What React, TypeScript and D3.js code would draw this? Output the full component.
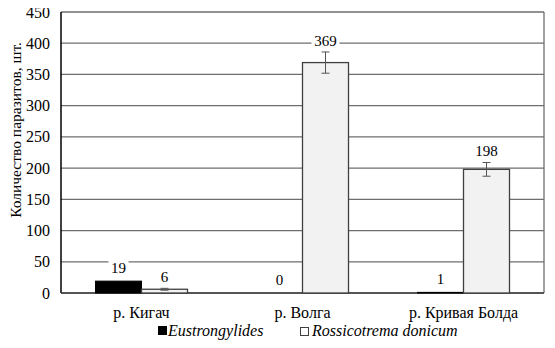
import React from "react";
import * as d3 from "d3";

const categories = ["р. Кигач", "р. Волга", "р. Кривая Болда"];
const seriesNames = ["Eustrongylides", "Rossicotrema donicum"];
const eustrongylides = [19, 0, 1];
const rossicotrema = [6, 369, 198];
const rossicotremaErr = [1.5, 17, 11];
const yTicks = [0, 50, 100, 150, 200, 250, 300, 350, 400, 450];

const W = 555;
const H = 348;
const M = { left: 61, right: 11, top: 12, bottom: 55 };

export default function App() {
  const x = d3
    .scaleBand<string>()
    .domain(categories)
    .range([M.left, W - M.right])
    .paddingInner(0)
    .paddingOuter(0);
  const y = d3.scaleLinear().domain([0, 450]).range([H - M.bottom, M.top]);
  const barW = 46;

  return (
    <svg width={W} height={H} className="chart" style={{ display: "block", margin: "-8px" }}>
      <style>{`.chart text { font-family: "Times New Roman", "Liberation Serif", Times, serif !important; }`}</style>
      <rect x={0} y={0} width={W} height={H} fill="#fff" />
      {yTicks.map((t) => (
        <line key={"g" + t} x1={M.left} x2={W - M.right} y1={y(t)} y2={y(t)} stroke="#6e6e6e" strokeWidth={1.3} />
      ))}
      <line x1={W - M.right} x2={W - M.right} y1={y(450)} y2={y(0)} stroke="#6e6e6e" strokeWidth={1.3} />
      <line x1={M.left} x2={M.left} y1={y(450)} y2={y(0)} stroke="#000" strokeWidth={1.5} />
      <line x1={M.left} x2={W - M.right} y1={y(0)} y2={y(0)} stroke="#404040" strokeWidth={1.5} />

      {yTicks.map((t) => (
        <text key={"t" + t} x={50} y={y(t)} dy="0.35em" textAnchor="end" fontSize={16} fill="#000" fontFamily="Times New Roman">
          {t}
        </text>
      ))}

      <text transform={`translate(16,130) rotate(-90)`} textAnchor="middle" dy="0.35em" fontSize={15.5} fill="#000" fontFamily="Times New Roman">
        Количество паразитов, шт.
      </text>

      {categories.map((c, i) => {
        const cx = (x(c) as number) + x.bandwidth() / 2;
        const v1 = eustrongylides[i];
        const v2 = rossicotrema[i];
        const e2 = rossicotremaErr[i];
        const x1 = cx - barW;
        const x2 = cx;
        return (
          <g key={c}>
            {v1 > 0 && (
              <rect x={x1} y={y(v1)} width={barW} height={y(0) - y(v1)} fill="#000" stroke="#000" strokeWidth={1} />
            )}
            <rect x={x2} y={y(v2)} width={barW} height={y(0) - y(v2)} fill="#f2f2f2" stroke="#404040" strokeWidth={1.3} />
            <line x1={x2 + barW / 2} x2={x2 + barW / 2} y1={y(v2 + e2)} y2={y(v2 - e2)} stroke="#555" strokeWidth={1} />
            <line x1={x2 + barW / 2 - 4} x2={x2 + barW / 2 + 4} y1={y(v2 + e2)} y2={y(v2 + e2)} stroke="#555" strokeWidth={1} />
            <line x1={x2 + barW / 2 - 4} x2={x2 + barW / 2 + 4} y1={y(v2 - e2)} y2={y(v2 - e2)} stroke="#555" strokeWidth={1} />
            <rect x={x1 + barW / 2 - 10} y={y(v1) - 22} width={20} height={17} fill="#fff" />
            <text x={x1 + barW / 2} y={y(v1) - 8} textAnchor="middle" fontSize={15} fill="#000" fontFamily="Times New Roman">
              {v1}
            </text>
            <rect x={x2 + barW / 2 - 14} y={y(v2 + e2) - 20} width={28} height={17} fill="#fff" />
            <text x={x2 + barW / 2} y={y(v2 + e2) - 6} textAnchor="middle" fontSize={15} fill="#000" fontFamily="Times New Roman">
              {v2}
            </text>
            <text x={cx} y={318} textAnchor="middle" fontSize={16} fill="#000" fontFamily="Times New Roman">
              {c}
            </text>
          </g>
        );
      })}

      <g>
        <rect x={158} y={326} width={9} height={9} fill="#000" />
        <text x={168} y={336} fontSize={16} fontStyle="italic" fill="#000" fontFamily="Times New Roman">
          {seriesNames[0]}
        </text>
        <rect x={300.5} y={327.5} width={8} height={8} fill="#fff" stroke="#404040" strokeWidth={1} />
        <text x={312} y={336} fontSize={16} fontStyle="italic" fill="#000" fontFamily="Times New Roman">
          {seriesNames[1]}
        </text>
      </g>
    </svg>
  );
}
